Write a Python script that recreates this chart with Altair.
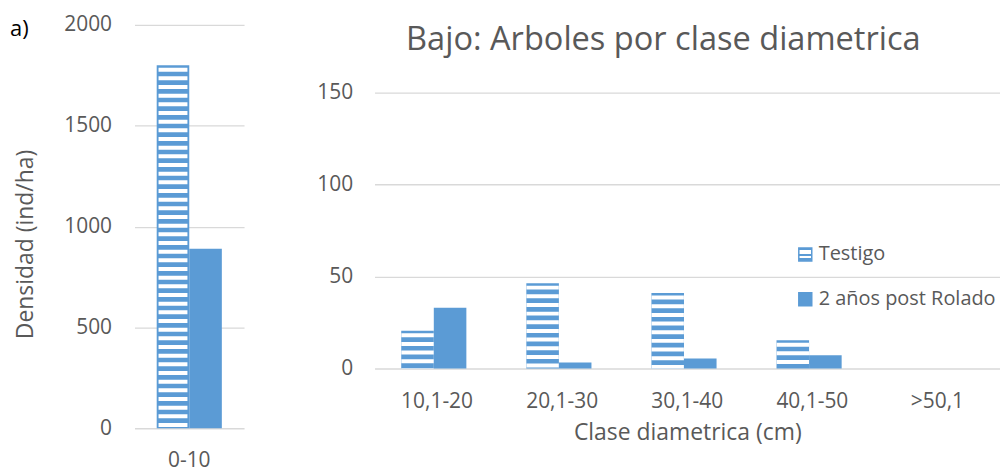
import altair as alt
import pandas as pd

# ---------------- data ----------------
series_names = ["Testigo", "2 años post Rolado"]

left_classes = ["0-10"]
left_testigo = [1800]
left_rolado = [890]
left_ticks = [0, 500, 1000, 1500, 2000]

right_classes = ["10,1-20", "20,1-30", "30,1-40", "40,1-50", ">50,1"]
right_testigo = [20.5, 46.4, 41, 15.4, 0]
right_rolado = [33, 3.3, 5.4, 7.2, 0]
right_ticks = [0, 50, 100, 150]

title_text = "Bajo: Arboles por clase diametrica"
panel_label = "a)"

# ---------------- style ----------------
BLUE = "#5b9bd5"
TEXT = "#595959"
GRID = "#d9d9d9"
FONT = "Open Sans"
TICK_FS = 21
TITLE_FS = 23


def long_table(classes, testigo, rolado):
    rows = []
    for c, a, b in zip(classes, testigo, rolado):
        rows.append({"clase": c, "serie": series_names[0], "valor": a})
        rows.append({"clase": c, "serie": series_names[1], "valor": b})
    return pd.DataFrame(rows)


ldf = long_table(left_classes, left_testigo, left_rolado)
rdf = long_table(right_classes, right_testigo, right_rolado)

xoff = alt.XOffset("serie:N", sort=series_names,
                   scale=alt.Scale(domain=series_names))

# ---------------- left panel ----------------
lscale_y = alt.Scale(domain=[0, 2000], nice=False, zero=True)
lx = alt.X("clase:N", sort=left_classes,
           scale=alt.Scale(paddingInner=0, paddingOuter=0.341),
           axis=alt.Axis(title=None, labelAngle=0, ticks=False, domain=False,
                         grid=False, labelPadding=21, labelFontSize=TICK_FS,
                         labelColor=TEXT, labelFont=FONT))
ly = alt.Y("valor:Q", scale=lscale_y,
           axis=alt.Axis(values=left_ticks, format="d",
                         title="Densidad (ind/ha)",
                         grid=True, gridColor=GRID, gridWidth=1.3,
                         domain=False, ticks=False, labelPadding=23,
                         labelFontSize=TICK_FS, labelColor=TEXT,
                         labelFont=FONT, titleFontSize=TITLE_FS,
                         titleColor=TEXT, titleFont=FONT,
                         titleFontWeight="normal", titlePadding=26,
                         titleY=220))

lbase = alt.Chart(ldf)
lbars = lbase.mark_bar(color=BLUE).encode(x=lx, xOffset=xoff, y=ly)
lstripes = (
    lbase.transform_filter(alt.datum.serie == series_names[0])
    .transform_filter(alt.datum.valor > 0)
    .mark_rule(color="white", strokeWidth=29, strokeDash=[4, 4.7],
               strokeDashOffset=6.2, strokeCap="butt")
    .encode(x=alt.X("clase:N", sort=left_classes), xOffset=xoff,
            y=alt.Y("valor:Q", scale=lscale_y), y2=alt.datum(0))
)
label_a = (
    alt.Chart(pd.DataFrame({"t": [panel_label]}))
    .mark_text(align="left", baseline="middle", fontSize=22, font=FONT,
               color="#000000")
    .encode(text="t:N", x=alt.value(-125), y=alt.value(4))
)
left = alt.layer(lbars, lstripes, label_a).properties(width=110, height=405)

# ---------------- right panel ----------------
# top of the plot area is aligned with the left panel; 150 gridline sits lower
rscale_y = alt.Scale(domain=[0, 186.8], nice=False, zero=True)
rx = alt.X("clase:N", sort=right_classes,
           scale=alt.Scale(paddingInner=0.427, paddingOuter=0.2135),
           axis=alt.Axis(title="Clase diametrica (cm)", labelAngle=0,
                         ticks=False, domain=False, grid=False,
                         labelPadding=22,
                         labelFontSize=TICK_FS, labelColor=TEXT,
                         labelFont=FONT, titleFontSize=TITLE_FS,
                         titleColor=TEXT, titleFont=FONT,
                         titleFontWeight="normal", titlePadding=10))
ry = alt.Y("valor:Q", scale=rscale_y,
           axis=alt.Axis(values=right_ticks, title=None, grid=True,
                         gridColor=GRID, gridWidth=1.3,
                         domain=False, ticks=False, labelPadding=22,
                         labelFontSize=TICK_FS, labelColor=TEXT,
                         labelFont=FONT))

rbase = alt.Chart(rdf)
rbars = rbase.mark_bar(color=BLUE).encode(x=rx, xOffset=xoff, y=ry)
rstripes = (
    rbase.transform_filter(alt.datum.serie == series_names[0])
    .transform_filter(alt.datum.valor > 0)
    .mark_rule(color="white", strokeWidth=32.5, strokeDash=[4, 4.7],
               strokeDashOffset=6.2, strokeCap="butt")
    .encode(x=alt.X("clase:N", sort=right_classes), xOffset=xoff,
            y=alt.Y("valor:Q", scale=rscale_y), y2=alt.datum(0))
)

title_mark = (
    alt.Chart(pd.DataFrame({"t": [title_text]}))
    .mark_text(align="center", baseline="alphabetic", fontSize=32.7,
               font=FONT, color=TEXT)
    .encode(text="t:N", x=alt.value(290), y=alt.value(25.7))
)

# ---------------- legend (built from marks) ----------------
striped = alt.LinearGradient(
    gradient="linear", x1=0, y1=0, x2=0, y2=1,
    stops=[
        alt.GradientStop(offset=0, color=BLUE), alt.GradientStop(offset=0.18, color=BLUE),
        alt.GradientStop(offset=0.18, color="white"), alt.GradientStop(offset=0.45, color="white"),
        alt.GradientStop(offset=0.45, color=BLUE), alt.GradientStop(offset=0.6, color=BLUE),
        alt.GradientStop(offset=0.6, color="white"), alt.GradientStop(offset=0.78, color="white"),
        alt.GradientStop(offset=0.78, color=BLUE), alt.GradientStop(offset=1, color=BLUE),
    ],
)
legend_df = pd.DataFrame({"serie": series_names})
LEG_X, LEG_Y, LEG_STEP = 426, 230.5, 45
legend_layers = []
for i, name in enumerate(series_names):
    item = alt.Chart(legend_df).transform_filter(alt.datum.serie == name)
    fill = striped if i == 0 else BLUE
    legend_layers.append(
        item.mark_rect(fill=fill, stroke=BLUE, strokeWidth=1.5).encode(
            x=alt.value(LEG_X), x2=alt.value(LEG_X + 13),
            y=alt.value(LEG_Y + LEG_STEP * i - 6.5),
            y2=alt.value(LEG_Y + LEG_STEP * i + 6.5))
    )
    legend_layers.append(
        item.mark_text(align="left", baseline="middle", fontSize=20,
                       font=FONT, color=TEXT).encode(
            text="serie:N", x=alt.value(LEG_X + 20),
            y=alt.value(LEG_Y + LEG_STEP * i))
    )

right = alt.layer(rbars, rstripes, title_mark, *legend_layers).properties(
    width=628, height=345)

chart = (
    alt.hconcat(left, right, spacing=72)
    .resolve_scale(y="independent", x="independent")
    .properties(padding={"left": 2, "top": 5, "right": 0, "bottom": 6})
    .configure(font=FONT)
    .configure_view(strokeWidth=0, stroke="transparent")
)

chart.save("out.html", embed_options={"renderer": "svg", "actions": False})
